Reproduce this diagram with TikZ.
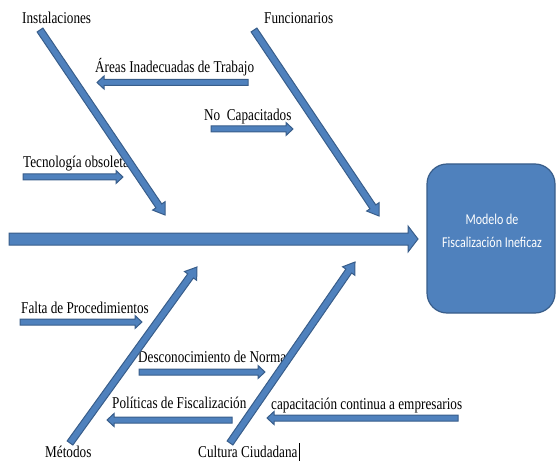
\documentclass[tikz,border=0pt]{standalone}
\usepackage{fontspec}
\setmainfont{Liberation Serif}[FakeStretch=0.8]
\newfontfamily\boxfont{Carlito}[FakeStretch=0.8]
\usetikzlibrary{calc}
\definecolor{bfill}{HTML}{4F81BD}
\definecolor{bline}{HTML}{385D8A}
\tikzset{
  barrowstyle/.style={fill=bfill, draw=bline, line width=1pt, line join=miter},
  lbl/.style={anchor=base west, inner sep=0pt, font=\fontsize{16.5}{18}\selectfont},
  bigbox/.style={draw=bline, fill=bfill, rounded corners=20pt, minimum width=128pt, minimum height=149pt, line width=1.2pt, inner sep=0pt},
  boxtext/.style={text=white, align=center, inner sep=0pt, font=\boxfont\fontsize{15}{23}\selectfont}
}
% #1 start, #2 end, #3 half shaft, #4 half head, #5 head length
\newcommand\blockarrow[5]{%
  \filldraw[barrowstyle] let \p1=(#1), \p2=(#2), \n1={atan2(\y2-\y1,\x2-\x1)} in
    ($(\p1)+({\n1+90}:#3)$) -- ($(\p2)+({\n1+180}:#5)+({\n1+90}:#3)$) --
    ($(\p2)+({\n1+180}:#5)+({\n1+90}:#4)$) -- (\p2) --
    ($(\p2)+({\n1+180}:#5)+({\n1-90}:#4)$) -- ($(\p2)+({\n1+180}:#5)+({\n1-90}:#3)$) --
    ($(\p1)+({\n1-90}:#3)$) -- cycle;}
\begin{document}
\begin{tikzpicture}[x=1pt,y=-1pt]
\useasboundingbox (0,0) rectangle (556,462);
% labels
\node[lbl] (tInst) at (22,24) {Instalaciones};
\node[lbl] (tFunc) at (264,24) {Funcionarios};
\node[lbl] (tAreas) at (95,73) {Áreas Inadecuadas de Trabajo};
\node[lbl] (tNoCap) at (204,121) {No\ \ Capacitados};
\node[lbl] (tTec) at (23,168) {Tecnología obsoleta};
\node[lbl] (tFalta) at (21,313) {Falta de Procedimientos};
\node[lbl] (tDesc) at (138,362) {Desconocimiento de Norma};
\node[lbl] (tPol) at (112,408) {Políticas de Fiscalización};
\node[lbl] (tCap) at (271,409) {capacitación continua a empresarios};
\node[lbl] (tMet) at (45,457) {Métodos};
\node[lbl] (tCult) at (198,457) {Cultura Ciudadana};
\draw[line width=0.6pt] (299,443) -- (299,461);
% coordinates
\coordinate (sA) at (9,239);   \coordinate (sB) at (418,239);
\coordinate (iA) at (40,30);   \coordinate (iB) at (165,215);
\coordinate (fA) at (254,30);  \coordinate (fB) at (379,216);
\coordinate (mA) at (70,443);  \coordinate (mB) at (197,267);
\coordinate (cA) at (230,443); \coordinate (cB) at (355,262);
\coordinate (aA) at (248,82.5); \coordinate (aB) at (97,82.5);
\coordinate (nA) at (211,129); \coordinate (nB) at (293,129);
\coordinate (tA) at (23,177);  \coordinate (tB) at (123,177);
\coordinate (pA) at (20,322);  \coordinate (pB) at (142,322);
\coordinate (dA) at (139,372); \coordinate (dB) at (265,372);
\coordinate (poA) at (232,420); \coordinate (poB) at (107,420);
\coordinate (caA) at (458,418); \coordinate (caB) at (267,418);
% small arrows
\blockarrow{aA}{aB}{3pt}{6.5pt}{7pt}
\blockarrow{nA}{nB}{3pt}{6.5pt}{7pt}
\blockarrow{tA}{tB}{3pt}{6.5pt}{7pt}
\blockarrow{pA}{pB}{3pt}{6.5pt}{7pt}
\blockarrow{dA}{dB}{3pt}{6.5pt}{7pt}
\blockarrow{poA}{poB}{3pt}{6.5pt}{7pt}
\blockarrow{caA}{caB}{3pt}{6.5pt}{7pt}
% bones
\blockarrow{iA}{iB}{3.5pt}{7.5pt}{11pt}
\blockarrow{fA}{fB}{3.5pt}{7.5pt}{11pt}
\blockarrow{mA}{mB}{3.5pt}{7.5pt}{11pt}
\blockarrow{cA}{cB}{3.5pt}{7.5pt}{11pt}
% spine
\blockarrow{sA}{sB}{6pt}{13pt}{10pt}
% effect box
\node[bigbox] (box) at (491,238.5) {};
\node[boxtext] (bt) at (492,231) {Modelo de\\Fiscalización Ineficaz};
\end{tikzpicture}
\end{document}
